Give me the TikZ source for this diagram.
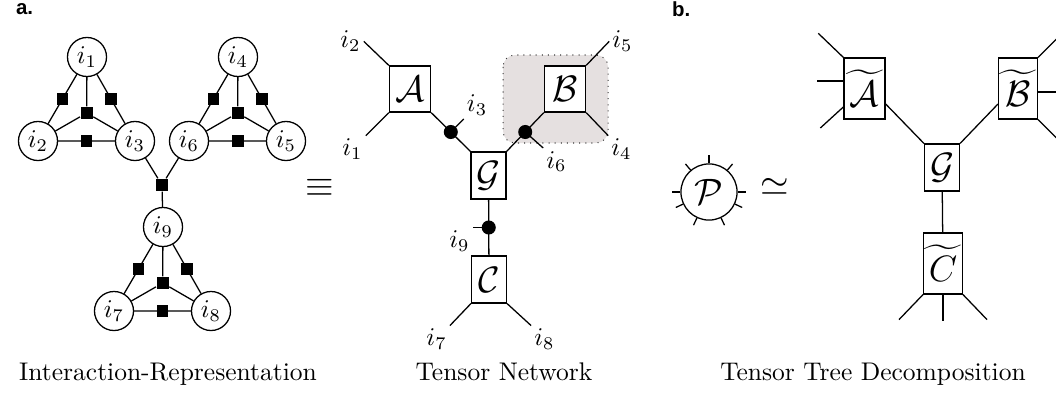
\documentclass[tikz,border=0pt]{standalone}
\usepackage{fontspec}
\newfontfamily\panelfont{Liberation Sans}
\usepackage{amsmath}
\usepackage{amssymb}
\usetikzlibrary{calc,backgrounds}
\definecolor{BShade}{HTML}{E5E0E0}
\definecolor{BDots}{HTML}{3A3A3A}
\newcommand{\wtl}[1]{\widetilde{\hbox to 14.6pt{\hss$#1$\hss}}}
\tikzset{
    site/.style = {draw, circle, fill=white,
        minimum size=15.3pt, inner sep=0pt},
    factor/.style = {fill, rectangle, minimum size=4.7pt, inner sep=0pt},
    bond/.style = {fill, circle, minimum size=5.5pt, inner sep=0pt},
    tensor/.style = {draw, rectangle, fill=white,
        minimum width=16.1pt,
        minimum height=18pt, inner sep=0pt},
    core/.style = {draw, rectangle, fill=white,
        minimum width=13.7pt,
        minimum height=18.4pt, inner sep=0pt},
    leaf/.style = {draw, rectangle, fill=white,
        minimum width=15.2pt,
        minimum height=23.9pt, inner sep=0pt},
    index/.style = {inner sep=1pt},
    caption/.style = {anchor=base},
    panel/.style = {anchor=base west, font=\panelfont\bfseries\footnotesize}
}
\begin{document}
\begin{tikzpicture}[x=0.392pt,y=-0.392pt,line width=0.5pt]
    \useasboundingbox (0,0) rectangle (1056,394);
    \clip (0,0) rectangle (1056,394);
    \node[panel] (la) at (7,14) {a.};
    \node[panel] (lb) at (663,17) {b.};
    % interaction representation
    \foreach \ta/\tb/\tc/\x/\y in {1/2/3/87/57, 4/6/5/238/57, 9/7/8/163/227} {
        \node[site] (i\ta) at (\x,\y) {$i_{\ta}$};
        \node[site] (i\tb) at (\x-49,\y+84) {$i_{\tb}$};
        \node[site] (i\tc) at (\x+48,\y+84) {$i_{\tc}$};
        \node[factor] (c\ta) at (barycentric cs:i\ta=1,i\tb=1,i\tc=1) {};
        \draw (i\ta) -- node[factor] {} (i\tb) -- node[factor] {} (i\tc) -- node[factor] {} (i\ta);
        \draw (i\ta) -- (c\ta);
        \draw (i\tb) -- (c\ta);
        \draw (i\tc) -- (c\ta);
    }
    \node[factor] (j) at (162,185) {};
    \draw (i3) -- (j) -- (i6);
    \draw (j) -- (i9);
    \node (eq) at (320,188) {\Large$\equiv$};
    % tensor network
    \begin{scope}[on background layer]
        \draw[dotted, color=BDots, fill=BShade, rounded corners=4.7pt] (503,55) rectangle (608,143);
    \end{scope}
    \node[tensor] (A) at (410,89) {\Large$\mathcal{A}$};
    \node[tensor] (B) at (565,89) {\Large$\mathcal{B}$};
    \node[core] (G) at (488.5,175.5) {\Large$\mathcal{G}$};
    \node[core] (C) at (489,279.5) {\Large$\mathcal{C}$};
    \draw (A.south east) -- node[bond] (d3) {} (G.north west);
    \draw (G.north east) -- node[bond] (d6) {} (B.south west);
    \draw (G) -- node[bond] (d9) {} (C);
    \draw (d3.center) -- ++(13,-13) node[index, anchor=south west] {$i_3$};
    \draw (d6.center) -- ++(18,16) node[index, anchor=north west] {$i_6$};
    \draw (d9.center) -- ++(-16,0) node[index, anchor=north east] {$i_9$};
    \draw (A.north west) -- ++(-25,-24) node[index, anchor=east] {$i_2$};
    \draw (A.south west) -- ++(-23,23) node[index, anchor=north east] {$i_1$};
    \draw (B.north east) -- ++(23,-24) node[index, anchor=west] {$i_5$};
    \draw (B.south east) -- ++(22,23) node[index, anchor=north west] {$i_4$};
    \draw (C.south west) -- ++(-21,22) node[index, anchor=north east] {$i_7$};
    \draw (C.south east) -- ++(24,22) node[index, anchor=north west] {$i_8$};
    % tensor tree decomposition
    \node[draw, circle, minimum size=22pt, inner sep=0pt] (P) at (709,192) {\Large$\mathcal{P}$};
    \foreach \a in {0,50,90,130,180,205,245,295,335}
        \draw (P.\a) -- ++(\a:3.1pt);
    \node (sim) at (775,187) {\Large$\simeq$};
    \node[leaf, minimum width=16.1pt] (At) at (864.5,88.5) {\Large$\wtl{\mathcal{A}}$};
    \node[leaf] (Bt) at (1018,88.5) {\Large$\wtl{\mathcal{B}}$};
    \node[core] (Gt) at (942,167.5) {\Large$\mathcal{G}$};
    \node[leaf] (Ct) at (943,263.5) {\Large$\wtl{C}$};
    \draw (At.north west) -- ++(-25,-24);
    \draw ($(At.west)+(0,-7.5)$) -- ++(-26,0);
    \draw ($(At.west)+(0,18.5)$) -- ++(-23,21);
    \draw ($(At.east)+(0,15.5)$) -- (Gt.north west);
    \draw (Gt.north east) -- ($(Bt.west)+(0,15.5)$);
    \draw (Bt.north east) -- ++(25,-25);
    \draw ($(Bt.east)+(0,3.5)$) -- ++(25,0);
    \draw (Bt.south east) -- ++(25,25);
    \draw (Gt) -- (Ct);
    \draw (Ct.south west) -- ++(-24,25);
    \draw (Ct.south) -- ++(0,26);
    \draw (Ct.south east) -- ++(24,25);
    % captions
    \node[caption] (capa) at (168,380) {Interaction-Representation};
    \node[caption] (capb) at (504,380) {Tensor Network};
    \node[caption] (capc) at (873,380) {Tensor Tree Decomposition};
\end{tikzpicture}
\end{document}
